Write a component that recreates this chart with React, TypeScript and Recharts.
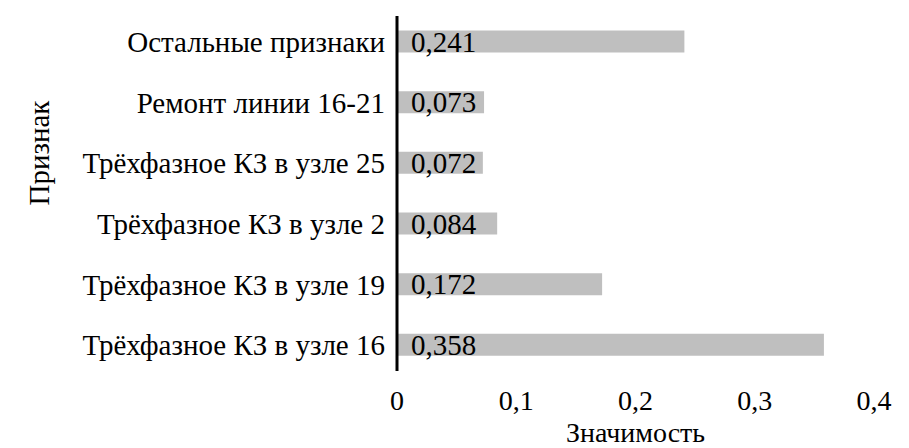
import React from 'react';
import { BarChart, Bar, XAxis, YAxis, LabelList } from 'recharts';

const categories = [
  'Остальные признаки',
  'Ремонт линии 16-21',
  'Трёхфазное КЗ в узле 25',
  'Трёхфазное КЗ в узле 2',
  'Трёхфазное КЗ в узле 19',
  'Трёхфазное КЗ в узле 16',
];
const importance = [0.241, 0.073, 0.072, 0.084, 0.172, 0.358];
const xTicks = [0, 0.1, 0.2, 0.3, 0.4];
const xTitle = 'Значимость';
const yTitle = 'Признак';

const data = categories.map((name, i) => ({ name, value: importance[i] }));

const FONT = 'Liberation Serif, Tinos, Times New Roman, DejaVu Serif, serif';
const FS = 29;
const fmt = (v: number) => String(v).replace('.', ',');

const XTitle = (props: any) => {
  const vb = props.viewBox || {};
  return (
    <text x={vb.x + vb.width / 2} y={442} textAnchor="middle" style={{ fontFamily: FONT, fontSize: 28 }} fill="#000">
      {xTitle}
    </text>
  );
};

const YTitle = () => (
  <text transform="translate(49,153) rotate(-90)" x={0} y={0} textAnchor="middle" style={{ fontFamily: FONT, fontSize: FS }} fill="#000">
    {yTitle}
  </text>
);

export default function App() {
  return (
    <div style={{ position: 'absolute', left: 0, top: 0, width: 909, height: 448, background: '#fff', fontFamily: FONT }}>
      <BarChart
        width={909}
        height={448}
        data={data}
        layout="vertical"
        margin={{ top: 16, right: 35, left: 0, bottom: 0 }}
        barCategoryGap={0}
        style={{ fontFamily: FONT }}
      >
        <XAxis
          type="number"
          domain={[0, 0.4]}
          ticks={xTicks}
          tickFormatter={fmt}
          axisLine={false}
          tickLine={false}
          tickSize={0}
          tickMargin={19}
          height={77}
          interval={0}
          tick={{ fontFamily: FONT, fontSize: 28, fill: '#000' }}
          label={<XTitle />}
        />
        <YAxis
          type="category"
          dataKey="name"
          width={397}
          padding={{ top: -4.5, bottom: -4.5 }}
          axisLine={{ stroke: '#000', strokeWidth: 3 }}
          tickLine={false}
          tickSize={0}
          tickMargin={12}
          interval={0}
          tick={{ fontFamily: FONT, fontSize: FS, fill: '#000' }}
          label={<YTitle />}
        />
        <Bar dataKey="value" fill="#BFBFBF" barSize={22} isAnimationActive={false}>
          <LabelList
            dataKey="value"
            position="insideLeft"
            offset={14}
            formatter={(v: any) => fmt(v)}
            style={{ fontFamily: FONT, fontSize: FS, fill: '#000' }}
          />
        </Bar>
      </BarChart>
    </div>
  );
}
